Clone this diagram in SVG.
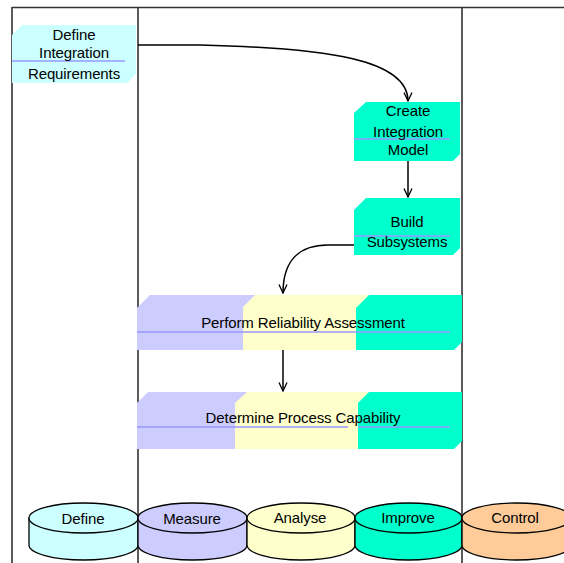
<svg xmlns="http://www.w3.org/2000/svg" width="564" height="563" viewBox="0 0 564 563">
<defs>
<marker id="arr" viewBox="0 0 10 10" refX="9.5" refY="5" markerWidth="10" markerHeight="10" markerUnits="userSpaceOnUse" orient="auto">
<path d="M1,1 L9.5,5 L1,9" fill="none" stroke="#000" stroke-width="1.3"/>
</marker>
</defs>
<style>
.lane{stroke:#333;stroke-width:1.6;fill:none}
.t{font-family:"Liberation Sans",Arial,sans-serif;font-size:15px;fill:#000;text-anchor:middle;letter-spacing:-0.1px}
.cy{fill:#ccffff}.pu{fill:#ccccff}.ye{fill:#ffffcc}.gr{fill:#00ffcc}.or{fill:#ffcc99}
.sep{stroke:#9999ff;stroke-width:1.5}
.cyl{stroke:#000;stroke-width:1.3}
.con{fill:none;stroke:#000;stroke-width:1.5;marker-end:url(#arr)}
</style>
<rect width="564" height="563" fill="#fff"/>
<g id="lanes">
<path class="lane" d="M12,7.5 H564 M12,7 V563 M138,7 V563 M462,7 V563"/>
</g>
<g id="define-integration-requirements">
<polygon class="cy" points="12,35 22,25 136,25 136,74 127,83 12,83"/>
<line class="sep" x1="12" y1="61" x2="125" y2="61"/>
<text class="t" x="74" y="40">Define</text>
<text class="t" x="74" y="57.5">Integration</text>
<text class="t" x="74" y="79">Requirements</text>
</g>
<g id="create-integration-model">
<polygon class="gr" points="354,113 366,102 460,102 460,154 453,161 354,161"/>
<line class="sep" x1="354" y1="139" x2="450" y2="139"/>
<text class="t" x="408" y="116">Create</text>
<text class="t" x="408" y="136.5">Integration</text>
<text class="t" x="408" y="155">Model</text>
</g>
<g id="build-subsystems">
<polygon class="gr" points="354,210 366,198 460,198 460,248 453,255 354,255"/>
<line class="sep" x1="354" y1="236" x2="450" y2="236"/>
<text class="t" x="407" y="227">Build</text>
<text class="t" x="407" y="247">Subsystems</text>
</g>
<g id="perform-reliability-assessment">
<polygon class="pu" points="137,308 150,295 290,295 290,350 137,350"/>
<polygon class="ye" points="243,307 255,295 380,295 380,350 243,350"/>
<polygon class="gr" points="356,308 369,295 462,295 462,342 454,350 356,350"/>
<line class="sep" x1="137" y1="332" x2="450" y2="332"/>
<text class="t" x="303" y="328">Perform Reliability Assessment</text>
</g>
<g id="determine-process-capability">
<polygon class="pu" points="137,403 148,392 290,392 290,449 137,449"/>
<polygon class="ye" points="235,403 247,392 380,392 380,449 235,449"/>
<polygon class="gr" points="358,403 369,392 462,392 462,441 454,449 358,449"/>
<line class="sep" x1="137" y1="427" x2="348" y2="427"/>
<line class="sep" x1="358" y1="427" x2="450" y2="427"/>
<text class="t" x="303" y="423">Determine Process Capability</text>
</g>
<g id="connectors">
<path class="con" d="M138,45 H200 C330,48 408,60 408,101"/>
<path class="con" d="M408,161 V197"/>
<path class="con" d="M354,245 H328 C300,245 283,260 283,293"/>
<path class="con" d="M283,350 V391"/>
</g>
<g id="phase-define">
<path class="cy cyl" d="M29,518 V545 A54.5,15 0 0 0 138,545 V518 Z"/>
<ellipse class="cy cyl" cx="83.5" cy="518" rx="54.5" ry="15"/>
<text class="t" x="83" y="524">Define</text>
</g>
<g id="phase-measure">
<path class="pu cyl" d="M138,518 V545 A54.5,15 0 0 0 247,545 V518 Z"/>
<ellipse class="pu cyl" cx="192.5" cy="518" rx="54.5" ry="15"/>
<text class="t" x="192" y="524">Measure</text>
</g>
<g id="phase-analyse">
<path class="ye cyl" d="M247,518 V545 A54,15 0 0 0 355,545 V518 Z"/>
<ellipse class="ye cyl" cx="301" cy="518" rx="54" ry="15"/>
<text class="t" x="300" y="523">Analyse</text>
</g>
<g id="phase-improve">
<path class="gr cyl" d="M355,518 V545 A53.5,15 0 0 0 462,545 V518 Z"/>
<ellipse class="gr cyl" cx="408.5" cy="518" rx="53.5" ry="15"/>
<text class="t" x="408" y="523">Improve</text>
</g>
<g id="phase-control">
<path class="or cyl" d="M462,518 V545 A54.5,15 0 0 0 571,545 V518 Z"/>
<ellipse class="or cyl" cx="516.5" cy="518" rx="54.5" ry="15"/>
<text class="t" x="515" y="523">Control</text>
</g>
</svg>
